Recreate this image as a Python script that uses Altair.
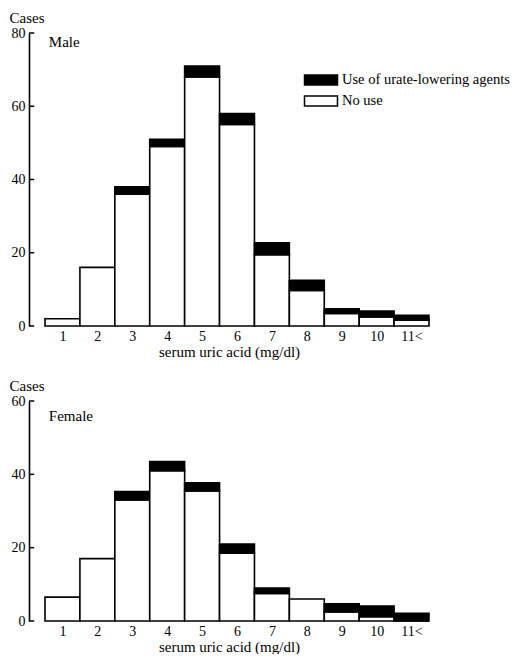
import altair as alt
import pandas as pd

FONT = "Liberation Serif"

categories = [1, 2, 3, 4, 5, 6, 7, 8, 9, 10, 11]
tick_labels = ["1", "2", "3", "4", "5", "6", "7", "8", "9", "10", "11<"]

male_no_use = [2, 16, 36, 49, 68, 55, 19.5, 9.7, 3.4, 2.5, 1.6]
male_use = [0, 0, 2, 2, 3, 3, 3.2, 2.8, 1.3, 1.6, 1.3]
female_no_use = [6.5, 17, 33, 41, 35.5, 18.5, 7.5, 6, 2.5, 1.2, 0]
female_use = [0, 0, 2.3, 2.5, 2.2, 2.5, 1.5, 0, 2.2, 2.9, 2.1]

series_names = ["Use of urate-lowering agents", "No use"]
series_colors = ["black", "white"]

male_ticks = [0, 20, 40, 60, 80]
female_ticks = [0, 20, 40, 60]

X_MIN = 0.0415
X_MAX = 11.5
TICK_LEN = 0.15


def stack_frame(no_use, use):
    rows = []
    for c, a, b in zip(categories, no_use, use):
        rows.append({"cat": c, "x0": c - 0.5, "x1": c + 0.5, "y0": 0, "y1": a,
                     "series": series_names[1], "fillc": series_colors[1]})
        if b > 0:
            rows.append({"cat": c, "x0": c - 0.5, "x1": c + 0.5, "y0": a, "y1": a + b,
                         "series": series_names[0], "fillc": series_colors[0]})
    return pd.DataFrame(rows)


label_expr = "[" + ",".join("'%s'" % t for t in tick_labels) + "][datum.value - 1]"


def panel(no_use, use, ymax, yticks, label, label_y, height, with_legend):
    df = stack_frame(no_use, use)
    xs = alt.Scale(domain=[X_MIN, X_MAX], nice=False, zero=False)
    ys = alt.Scale(domain=[0, ymax], nice=False)
    x_axis = alt.Axis(values=categories, labelExpr=label_expr, domain=False, ticks=False,
                      grid=False, title="serum uric acid (mg/dl)", labelPadding=3,
                      labelOverlap=False, titlePadding=1, labelFontSize=14, titleFontSize=15,
                      labelFont=FONT, titleFont=FONT, labelColor="black", titleColor="black",
                      titleFontWeight="normal")
    y_axis = alt.Axis(values=yticks, grid=False, ticks=False, domain=True, domainColor="black",
                      domainWidth=1.6, title="Cases", titleAngle=0, titleAlign="left",
                      titleBaseline="alphabetic", titleX=-20, titleY=-11, labelPadding=4,
                      labelOverlap=False, labelFontSize=14, titleFontSize=15, labelFont=FONT,
                      titleFont=FONT, labelColor="black", titleColor="black",
                      titleFontWeight="normal")
    if with_legend:
        color = alt.Color("series:N",
                          scale=alt.Scale(domain=series_names, range=series_colors),
                          legend=alt.Legend(title=None, orient="none", legendX=281, legendY=36,
                                            symbolType="M-1.65,-0.5H1.65V0.5H-1.65Z",
                                            symbolSize=400, symbolStrokeColor="black",
                                            symbolStrokeWidth=1.5, labelFont=FONT,
                                            labelFontSize=14.5, labelColor="black",
                                            labelLimit=0, labelOffset=10, rowPadding=2,
                                            padding=0))
    else:
        color = alt.Color("fillc:N", scale=None)
    bars = alt.Chart(df).mark_bar(stroke="black", strokeWidth=1.6).encode(
        x=alt.X("x0:Q", scale=xs, axis=x_axis),
        x2="x1:Q",
        y=alt.Y("y0:Q", scale=ys, axis=y_axis),
        y2="y1:Q",
        color=color,
    )
    tdf = pd.DataFrame({"v": yticks, "a": [X_MIN] * len(yticks),
                        "b": [X_MIN + TICK_LEN] * len(yticks)})
    ticks = alt.Chart(tdf).mark_rule(color="black", strokeWidth=1.5).encode(
        x=alt.X("a:Q", scale=xs, axis=x_axis), x2="b:Q",
        y=alt.Y("v:Q", scale=ys, axis=y_axis))
    ldf = pd.DataFrame({"t": [label], "x": [0.61], "y": [label_y]})
    txt = alt.Chart(ldf).mark_text(font=FONT, fontSize=15, align="left",
                                   baseline="alphabetic", color="black").encode(
        x=alt.X("x:Q", scale=xs, axis=x_axis), y=alt.Y("y:Q", scale=ys, axis=y_axis),
        text="t:N")
    return alt.layer(bars, ticks, txt).properties(width=400, height=height)


top = panel(male_no_use, male_use, 80, male_ticks, "Male", 76.2, 293, True)
bottom = panel(female_no_use, female_use, 60, female_ticks, "Female", 54.5, 220, False)

chart = alt.vconcat(top, bottom, spacing=19).resolve_scale(
    x="independent", y="independent", color="independent"
).properties(
    padding={"left": 1, "top": 2, "right": 0, "bottom": 0}
).configure_view(stroke=None)

chart.save("out.html", embed_options={"renderer": "svg", "actions": False})
